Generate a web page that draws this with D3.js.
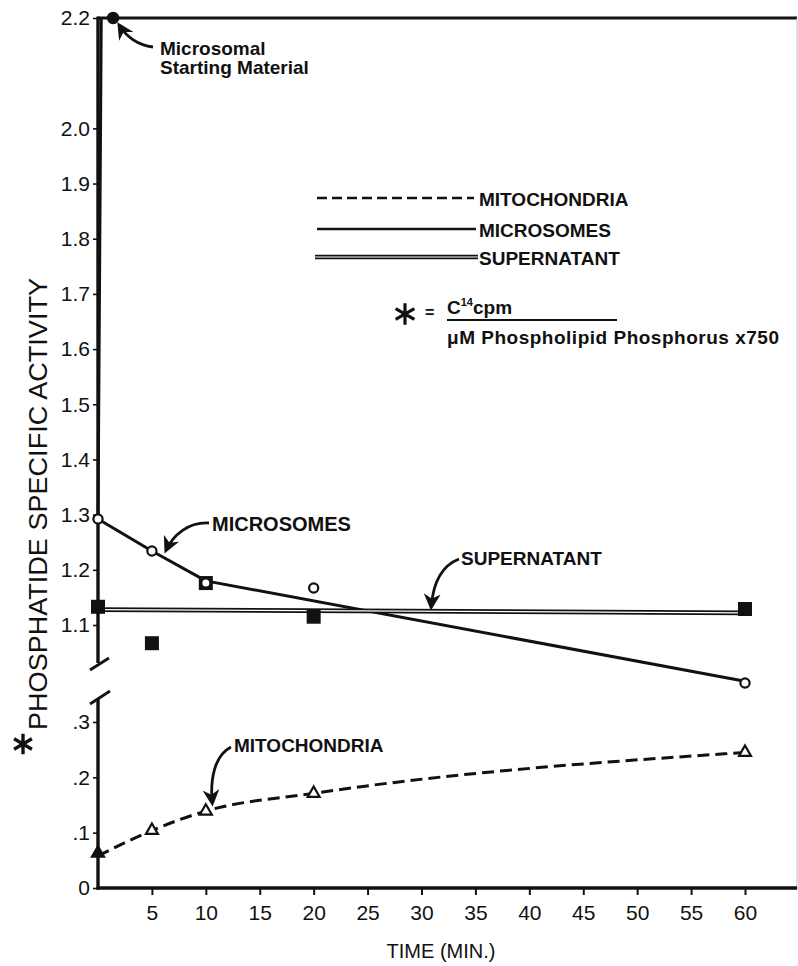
<!DOCTYPE html>
<html>
<head>
<meta charset="utf-8">
<script src="https://cdn.jsdelivr.net/npm/d3@7"></script>
<style>
  html, body { margin: 0; padding: 0; background: #fff; }
  svg { display: block; }
  text { font-family: "Liberation Sans", Arial, sans-serif; fill: #111; }
</style>
</head>
<body>
<svg id="chart" width="798" height="966"></svg>
<script>
// Sampling times (min)
const times = [0, 5, 10, 20, 60];
// Measured specific activities
const microsomes   = [1.292, 1.234, 1.176, 1.167, 0.995];
const supernatant  = [1.133, 1.067, 1.176, 1.115, 1.129];
const mitochondria = [0.063, 0.104, 0.139, 0.171, 0.245];
// Microsomal starting material
const startTime = 1.4, startValue = 2.2;
// Drawn curves through the microsome and supernatant data
const microsomeCurveT = [0.3, 0, 5, 10, 60];
const microsomeCurveV = [2.2, 1.292, 1.234, 1.18, 0.998];
const supernatantCurveT = [0, 60];
const supernatantCurveV = [1.128, 1.122];
// Axis ticks
const xTicks = [5, 10, 15, 20, 25, 30, 35, 40, 45, 50, 55, 60];
const upperTicks = [1.1, 1.2, 1.3, 1.4, 1.5, 1.6, 1.7, 1.8, 1.9, 2.0, 2.2];
const lowerTicks = [0, 0.1, 0.2, 0.3];
const lowerTickLabels = ["0", ".1", ".2", ".3"];
const legendItems = ["MITOCHONDRIA", "MICROSOMES", "SUPERNATANT"];

const svg = d3.select("#chart");
const ink = "#111";

const x = d3.scaleLinear().domain([0, 60]).range([98, 745]);
const yUp = d3.scaleLinear().domain([1.1, 2.2]).range([625, 18]);
const yLo = d3.scaleLinear().domain([0, 0.3]).range([888, 722]);

const axisLeft = 98, frameRight = 797;

// Frame: top border, faint right border
svg.append("line").attr("x1", axisLeft).attr("x2", frameRight).attr("y1", yUp(2.2)).attr("y2", yUp(2.2))
  .attr("stroke", ink).attr("stroke-width", 2.8);
svg.append("line").attr("x1", frameRight).attr("x2", frameRight).attr("y1", yUp(2.2)).attr("y2", yLo(0) + 2)
  .attr("stroke", "#bbb").attr("stroke-width", 1);

// X axis
const xAxis = svg.append("g").attr("transform", `translate(0,${yLo(0)})`)
  .call(d3.axisBottom(x).tickValues(xTicks).tickSize(7).tickPadding(10).tickFormat(d3.format("d")));
xAxis.select(".domain").remove();
xAxis.append("line").attr("x1", axisLeft - 1.5).attr("x2", frameRight).attr("stroke", ink).attr("stroke-width", 3.4);
xAxis.selectAll(".tick line").attr("stroke", ink).attr("stroke-width", 2);
xAxis.selectAll(".tick text").attr("font-size", 21).attr("fill", ink).attr("font-family", "Liberation Sans, Arial, sans-serif");

// Upper Y axis (broken)
const upAxis = svg.append("g").attr("transform", `translate(${axisLeft},0)`)
  .call(d3.axisLeft(yUp).tickValues(upperTicks).tickSize(5).tickPadding(3).tickFormat(d3.format(".1f")));
upAxis.select(".domain").remove();
upAxis.append("line").attr("y1", yUp(2.2) - 1.4).attr("y2", 663).attr("stroke", ink).attr("stroke-width", 3.4);
upAxis.selectAll(".tick line").attr("stroke", ink).attr("stroke-width", 1.6);
upAxis.selectAll(".tick text").attr("font-size", 21).attr("fill", ink).attr("font-family", "Liberation Sans, Arial, sans-serif");

// Lower Y axis
const loAxis = svg.append("g").attr("transform", `translate(${axisLeft},0)`)
  .call(d3.axisLeft(yLo).tickValues(lowerTicks).tickSize(5).tickPadding(3).tickFormat((d, i) => lowerTickLabels[i]));
loAxis.select(".domain").remove();
loAxis.append("line").attr("y1", 699).attr("y2", yLo(0) + 1.7).attr("stroke", ink).attr("stroke-width", 3.4);
loAxis.selectAll(".tick line").attr("stroke", ink).attr("stroke-width", 1.6);
loAxis.selectAll(".tick text").attr("font-size", 21).attr("fill", ink).attr("font-family", "Liberation Sans, Arial, sans-serif");

// Break marks
svg.append("line").attr("x1", axisLeft - 8).attr("y1", 670).attr("x2", axisLeft + 11).attr("y2", 658)
  .attr("stroke", ink).attr("stroke-width", 2.8);
svg.append("line").attr("x1", axisLeft - 8).attr("y1", 704).attr("x2", axisLeft + 12).attr("y2", 691)
  .attr("stroke", ink).attr("stroke-width", 2.8);

// Y axis title and asterisk
svg.append("text")
  .attr("transform", `translate(47,504) rotate(-90)`)
  .attr("text-anchor", "middle").attr("font-size", 25)
  .attr("textLength", 452).attr("lengthAdjust", "spacingAndGlyphs")
  .text("PHOSPHATIDE  SPECIFIC ACTIVITY");
svg.append("path")
  .attr("transform", "translate(23,744)")
  .attr("d", d3.symbol(d3.symbolAsterisk, 300)())
  .attr("fill", "none").attr("stroke", ink).attr("stroke-width", 3.4);

// X axis title
svg.append("text").attr("x", 441).attr("y", 958).attr("text-anchor", "middle")
  .attr("font-size", 20).text("TIME (MIN.)");

// Curves
const mitoLine = d3.line().x(d => x(d[0])).y(d => yLo(d[1])).curve(d3.curveMonotoneX);
svg.append("path")
  .attr("d", mitoLine(times.map((t, i) => [t, i === 0 ? mitochondria[i] - 0.005 : mitochondria[i]])))
  .attr("fill", "none").attr("stroke", ink).attr("stroke-width", 3).attr("stroke-dasharray", "12,6");

const upLine = d3.line().x(d => x(d[0])).y(d => yUp(d[1]));
svg.append("path")
  .attr("d", upLine(microsomeCurveT.map((t, i) => [t, microsomeCurveV[i]])))
  .attr("fill", "none").attr("stroke", ink).attr("stroke-width", 3).attr("stroke-linejoin", "round");

const supPts = supernatantCurveT.map((t, i) => [t, supernatantCurveV[i]]);
svg.append("path").attr("d", upLine(supPts))
  .attr("fill", "none").attr("stroke", ink).attr("stroke-width", 4.8);
svg.append("path").attr("d", upLine(supPts))
  .attr("fill", "none").attr("stroke", "#fff").attr("stroke-width", 1.3);

// Markers: supernatant (filled squares)
svg.append("g").selectAll("rect").data(times).join("rect")
  .attr("x", d => x(d) - 7).attr("y", (d, i) => yUp(supernatant[i]) - 7)
  .attr("width", 14).attr("height", 14).attr("fill", ink);

// Microsomes (open circles)
svg.append("g").selectAll("circle").data(times).join("circle")
  .attr("cx", d => x(d)).attr("cy", (d, i) => yUp(microsomes[i]))
  .attr("r", 4.6).attr("fill", "#fff").attr("stroke", ink).attr("stroke-width", 2.2);

// Mitochondria (triangles, first one filled)
svg.append("g").selectAll("path").data(times).join("path")
  .attr("transform", (d, i) => `translate(${x(d)},${yLo(mitochondria[i])})`)
  .attr("d", d3.symbol(d3.symbolTriangle, 62)())
  .attr("fill", (d, i) => i === 0 ? ink : "#fff").attr("stroke", ink).attr("stroke-width", 2.2);

// Starting material
svg.append("circle").attr("cx", x(startTime)).attr("cy", yUp(startValue)).attr("r", 6.2).attr("fill", ink);

// Arrowhead marker
svg.append("defs").append("marker")
  .attr("id", "arrow").attr("viewBox", "0 0 10 10").attr("refX", 8).attr("refY", 5)
  .attr("markerWidth", 6).attr("markerHeight", 6).attr("orient", "auto-start-reverse")
  .attr("markerUnits", "strokeWidth")
  .append("path").attr("d", "M0,0 L10,5 L0,10 L3,5 Z").attr("fill", ink);

function arrow(x0, y0, c1x, c1y, c2x, c2y, x1, y1) {
  svg.append("path")
    .attr("d", `M${x0},${y0} C${c1x},${c1y} ${c2x},${c2y} ${x1},${y1}`)
    .attr("fill", "none").attr("stroke", ink).attr("stroke-width", 2.8)
    .attr("marker-end", "url(#arrow)");
}

// Annotation: starting material
const sx = x(startTime), sy = yUp(startValue);
svg.append("text").attr("x", 160).attr("y", 55).attr("font-size", 19).attr("font-weight", 700).text("Microsomal");
svg.append("text").attr("x", 160).attr("y", 74).attr("font-size", 19).attr("font-weight", 700).text("Starting Material");
arrow(153, 47, 137, 45, 126, 36, sx + 6, sy + 7);

// Annotation: microsomes
const mx = x(6.3), my = yUp(1.226) - 5;
svg.append("text").attr("x", 212).attr("y", 531).attr("font-size", 20).attr("font-weight", 700).text("MICROSOMES");
arrow(209, 523, 188, 522, 173, 535, mx, my);

// Annotation: supernatant
const spx = x(30.9), spy = yUp(1.125) - 4;
svg.append("text").attr("x", 461).attr("y", 565).attr("font-size", 19).attr("font-weight", 700).text("SUPERNATANT");
arrow(459, 559, 441, 566, 433, 583, spx, spy);

// Annotation: mitochondria
const mtx = x(10.6), mty = yLo(0.146) - 4;
svg.append("text").attr("x", 234).attr("y", 752).attr("font-size", 19).attr("font-weight", 700).text("MITOCHONDRIA");
arrow(231, 747, 214, 756, 210, 780, mtx, mty);

// Legend
const legend = svg.append("g");
const legendY = [198, 229, 257];
legendItems.forEach((name, i) => {
  const y = legendY[i];
  if (i === 0) {
    legend.append("line").attr("x1", 317).attr("x2", 474).attr("y1", y).attr("y2", y)
      .attr("stroke", ink).attr("stroke-width", 2.4).attr("stroke-dasharray", "10,5");
  } else if (i === 1) {
    legend.append("line").attr("x1", 317).attr("x2", 476).attr("y1", y).attr("y2", y)
      .attr("stroke", ink).attr("stroke-width", 2.4);
  } else {
    legend.append("line").attr("x1", 315).attr("x2", 478).attr("y1", y).attr("y2", y)
      .attr("stroke", ink).attr("stroke-width", 4.4);
    legend.append("line").attr("x1", 315).attr("x2", 478).attr("y1", y).attr("y2", y)
      .attr("stroke", "#fff").attr("stroke-width", 1.2);
  }
  legend.append("text").attr("x", 479).attr("y", y + 8).attr("font-size", 19).attr("font-weight", 700).text(name);
});

// Definition of the asterisk
const def = svg.append("g");
def.append("path").attr("transform", "translate(405,314)")
  .attr("d", d3.symbol(d3.symbolAsterisk, 330)())
  .attr("fill", "none").attr("stroke", ink).attr("stroke-width", 3.2);
def.append("text").attr("x", 425).attr("y", 318).attr("font-size", 16).attr("font-weight", 700).text("=");
const num = def.append("text").attr("x", 447).attr("y", 314).attr("font-size", 19).attr("font-weight", 700);
num.append("tspan").text("C");
num.append("tspan").attr("font-size", 11).attr("dy", -8).text("14");
num.append("tspan").attr("dy", 8).text("cpm");
def.append("line").attr("x1", 447).attr("x2", 617).attr("y1", 320).attr("y2", 320)
  .attr("stroke", ink).attr("stroke-width", 2);
def.append("text").attr("x", 447).attr("y", 344).attr("font-size", 19).attr("font-weight", 700)
  .attr("textLength", 332).attr("lengthAdjust", "spacing")
  .text("\u03bcM  Phospholipid  Phosphorus x750");
</script>
</body>
</html>
